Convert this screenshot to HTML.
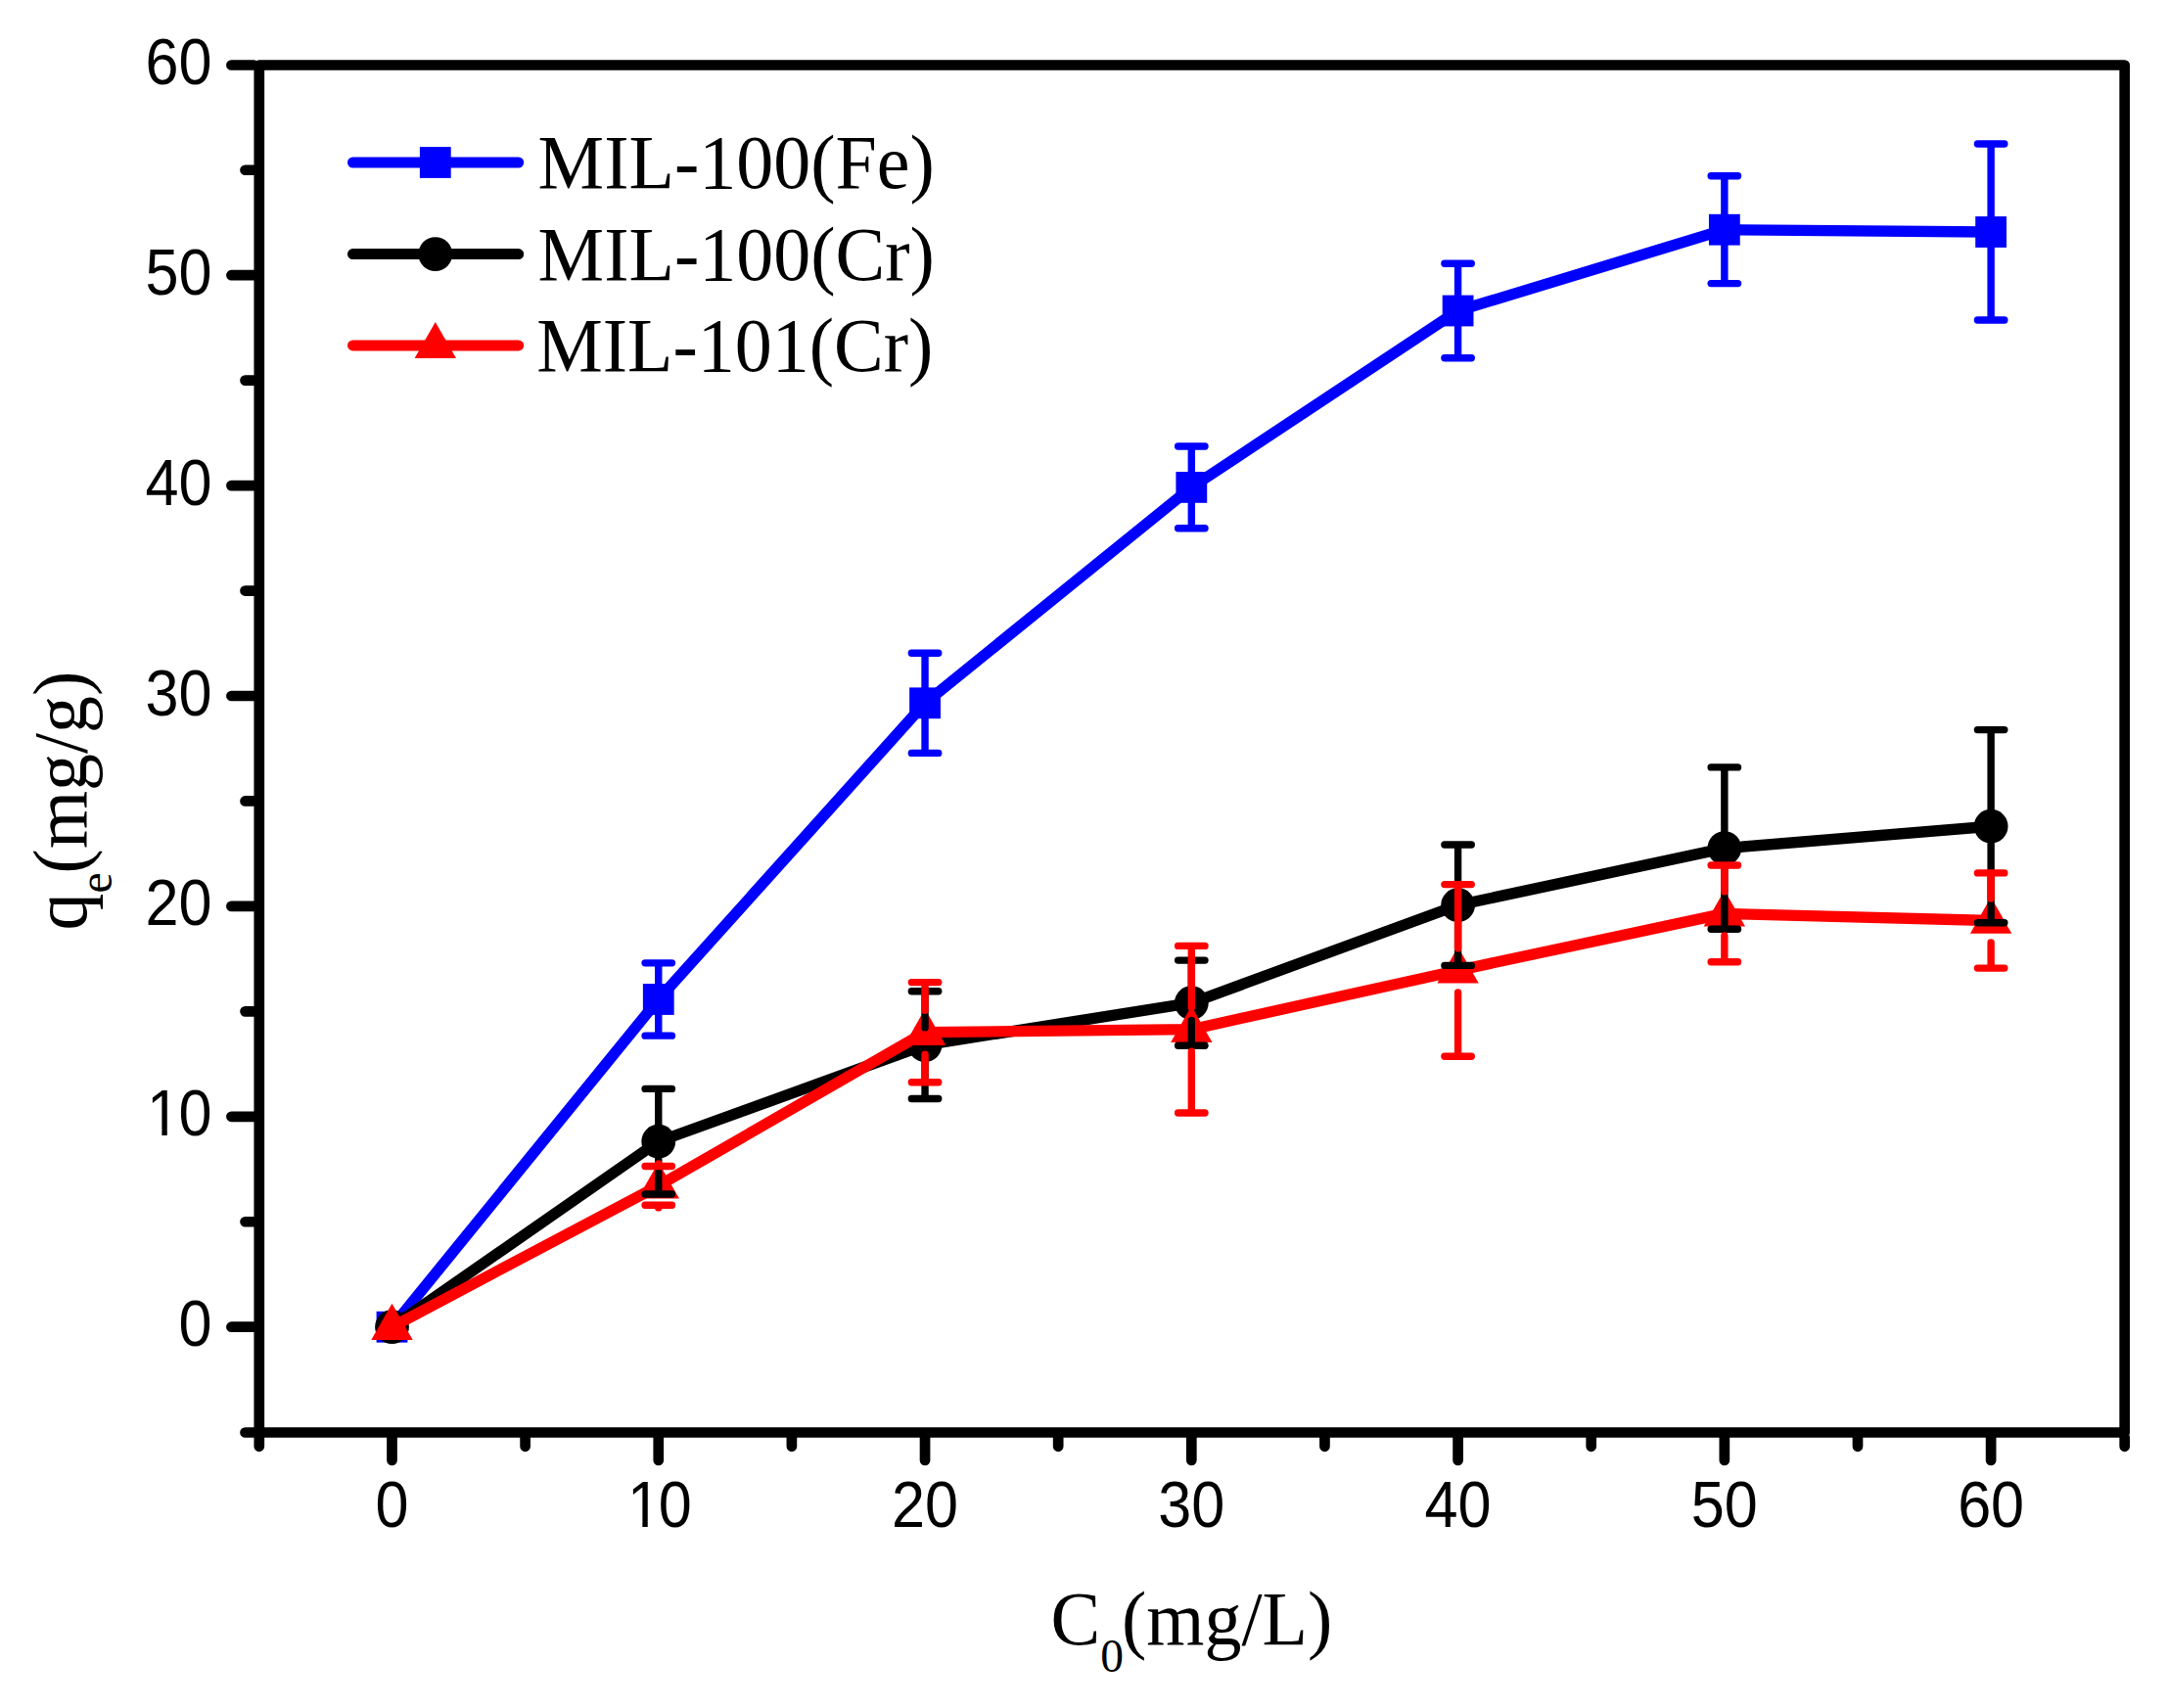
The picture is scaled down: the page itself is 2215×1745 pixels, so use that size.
<!DOCTYPE html>
<html lang="en"><head><meta charset="utf-8"><title>Adsorption isotherms</title>
<style>html,body{margin:0;padding:0;background:#fff}svg{display:block}.tk{font-family:"Liberation Sans",Arial,sans-serif;font-size:64px;fill:#000}.tt{font-family:"Liberation Serif","Times New Roman",serif;font-size:76px;fill:#000}.sb{font-size:47.5px}</style></head><body>
<svg width="2215" height="1745" viewBox="0 0 2215 1745">
<rect width="2215" height="1745" fill="#ffffff"/>
<g stroke="#000" stroke-width="10.7" stroke-linecap="round" stroke-linejoin="round" fill="none">
<path d="M264.8 66.5H2170.7V1463.5H264.8Z"/>
<path d="M259.45 1463.5H250.5M259.45 1355.7H236.4M259.45 1248.25H250.5M259.45 1140.8H236.4M259.45 1033.35H250.5M259.45 925.9H236.4M259.45 818.45H250.5M259.45 711H236.4M259.45 603.55H250.5M259.45 496.1H236.4M259.45 388.65H250.5M259.45 281.2H236.4M259.45 173.75H250.5M259.45 66.5H236.4M264.8 1468.85V1477.8M400.5 1468.85V1491.9M536.63 1468.85V1477.8M672.77 1468.85V1491.9M808.9 1468.85V1477.8M945.04 1468.85V1491.9M1081.17 1468.85V1477.8M1217.31 1468.85V1491.9M1353.45 1468.85V1477.8M1489.58 1468.85V1491.9M1625.71 1468.85V1477.8M1761.85 1468.85V1491.9M1897.99 1468.85V1477.8M2034.12 1468.85V1491.9M2170.7 1468.85V1477.8"/>
</g>
<g class="tk" text-anchor="end">
<text transform="translate(216.4 1375.2) scale(0.955 1.03)">0</text>
<text text-anchor="start" transform="translate(150.02 1160.3) scale(0.955 1.03)" dx="0 -1.68">10</text>
<text transform="translate(216.4 945.4) scale(0.955 1.03)">20</text>
<text transform="translate(216.4 730.5) scale(0.955 1.03)">30</text>
<text transform="translate(216.4 515.6) scale(0.955 1.03)">40</text>
<text transform="translate(216.4 300.7) scale(0.955 1.03)">50</text>
<text transform="translate(216.4 85.8) scale(0.955 1.03)">60</text>
</g>
<g class="tk" text-anchor="middle">
<text transform="translate(400.5 1560.3) scale(0.955 1.03)">0</text>
<text text-anchor="start" transform="translate(640.98 1560.3) scale(0.955 1.03)" dx="0 -2.3">10</text>
<text transform="translate(945.04 1560.3) scale(0.955 1.03)">20</text>
<text transform="translate(1217.31 1560.3) scale(0.955 1.03)">30</text>
<text transform="translate(1489.58 1560.3) scale(0.955 1.03)">40</text>
<text transform="translate(1761.85 1560.3) scale(0.955 1.03)">50</text>
<text transform="translate(2034.12 1560.3) scale(0.955 1.03)">60</text>
</g>
<rect x="153.67" y="1154.38" width="11.71" height="7.12" fill="#fff"/>
<rect x="170.79" y="1154.38" width="11.24" height="7.12" fill="#fff"/>
<rect x="644.63" y="1554.38" width="11.71" height="7.12" fill="#fff"/>
<rect x="661.75" y="1554.38" width="11.24" height="7.12" fill="#fff"/>
<text class="tt" transform="translate(1073.6 1680) scale(1 1.02)">C<tspan class="sb" dy="27">0</tspan><tspan dx="-2" dy="-27">(mg/L)</tspan></text>
<text class="tt" transform="translate(87.9 950.5) rotate(-90) scale(1 1.02)">q<tspan class="sb" dy="26">e</tspan><tspan dx="-1" dy="-26">(mg/g)</tspan></text>
<g>
<polyline points="400.5,1355.7 672.77,1021 945.04,718.3 1217.31,497.9 1489.58,317.5 1761.85,234.7 2034.12,237" fill="none" stroke="#0000ff" stroke-width="11.3" stroke-linejoin="round" stroke-linecap="round"/>
<rect x="384.6" y="1339.8" width="31.8" height="31.8" fill="#0000ff"/>
<rect x="656.87" y="1005.1" width="31.8" height="31.8" fill="#0000ff"/>
<rect x="929.14" y="702.4" width="31.8" height="31.8" fill="#0000ff"/>
<rect x="1201.41" y="482" width="31.8" height="31.8" fill="#0000ff"/>
<rect x="1473.68" y="301.6" width="31.8" height="31.8" fill="#0000ff"/>
<rect x="1745.95" y="218.8" width="31.8" height="31.8" fill="#0000ff"/>
<rect x="2018.22" y="221.1" width="31.8" height="31.8" fill="#0000ff"/>
</g>
<g>
<polyline points="400.5,1355.7 672.77,1166.2 945.04,1067.6 1217.31,1024.7 1489.58,924.7 1761.85,866.6 2034.12,844.2" fill="none" stroke="#000000" stroke-width="11.3" stroke-linejoin="round" stroke-linecap="round"/>
<circle cx="400.5" cy="1355.7" r="17.4" fill="#000000"/>
<circle cx="672.77" cy="1166.2" r="17.4" fill="#000000"/>
<circle cx="945.04" cy="1067.6" r="17.4" fill="#000000"/>
<circle cx="1217.31" cy="1024.7" r="17.4" fill="#000000"/>
<circle cx="1489.58" cy="924.7" r="17.4" fill="#000000"/>
<circle cx="1761.85" cy="866.6" r="17.4" fill="#000000"/>
<circle cx="2034.12" cy="844.2" r="17.4" fill="#000000"/>
</g>
<g>
<polyline points="400.5,1355.7 672.77,1211.4 945.04,1054.7 1217.31,1051.7 1489.58,991.4 1761.85,933.4 2034.12,940.5" fill="none" stroke="#ff0000" stroke-width="11.3" stroke-linejoin="round" stroke-linecap="round"/>
<polygon points="400.5,1331.7 421.7,1368.9 379.3,1368.9" fill="#ff0000"/>
<polygon points="672.77,1187.4 693.97,1224.6 651.57,1224.6" fill="#ff0000"/>
<polygon points="945.04,1030.7 966.24,1067.9 923.84,1067.9" fill="#ff0000"/>
<polygon points="1217.31,1027.7 1238.51,1064.9 1196.11,1064.9" fill="#ff0000"/>
<polygon points="1489.58,967.4 1510.78,1004.6 1468.38,1004.6" fill="#ff0000"/>
<polygon points="1761.85,909.4 1783.05,946.6 1740.65,946.6" fill="#ff0000"/>
<polygon points="2034.12,916.5 2055.32,953.7 2012.92,953.7" fill="#ff0000"/>
</g>
<path d="M659.07 983.85H686.47M659.07 1058.15H686.47M672.77 983.85V1005.3M672.77 1036.7V1058.15M931.34 667.2H958.74M931.34 769.4H958.74M945.04 667.2V702.6M945.04 734V769.4M1203.61 456.05H1231.01M1203.61 539.75H1231.01M1217.31 456.05V482.2M1217.31 513.6V539.75M1475.88 269.2H1503.28M1475.88 365.8H1503.28M1489.58 269.2V301.8M1489.58 333.2V365.8M1748.15 179.8H1775.55M1748.15 289.6H1775.55M1761.85 179.8V219M1761.85 250.4V289.6M2020.42 147.05H2047.82M2020.42 326.95H2047.82M2034.12 147.05V221.3M2034.12 252.7V326.95" fill="none" stroke="#0000ff" stroke-width="7.4" stroke-linecap="round"/>
<path d="M659.07 1112.4H686.47M659.07 1220H686.47M672.77 1112.4V1148.5M672.77 1183.9V1220M931.34 1012.7H958.74M931.34 1122.5H958.74M945.04 1012.7V1049.9M945.04 1085.3V1122.5M1203.61 981.1H1231.01M1203.61 1068.3H1231.01M1217.31 981.1V1007M1217.31 1042.4V1068.3M1475.88 863H1503.28M1475.88 986.4H1503.28M1489.58 863V907M1489.58 942.4V986.4M1748.15 783.9H1775.55M1748.15 949.3H1775.55M1761.85 783.9V848.9M1761.85 884.3V949.3M2020.42 745.6H2047.82M2020.42 942.8H2047.82M2034.12 745.6V826.5M2034.12 861.9V942.8" fill="none" stroke="#000000" stroke-width="7.4" stroke-linecap="round"/>
<path d="M659.07 1191.55H686.47M659.07 1231.25H686.47M672.77 1191.55V1188.9M672.77 1233.9V1231.25M931.34 1003.6H958.74M931.34 1105.8H958.74M945.04 1003.6V1032.2M945.04 1077.2V1105.8M1203.61 966.4H1231.01M1203.61 1137H1231.01M1217.31 966.4V1029.2M1217.31 1074.2V1137M1475.88 903.6H1503.28M1475.88 1079.2H1503.28M1489.58 903.6V968.9M1489.58 1013.9V1079.2M1748.15 884H1775.55M1748.15 982.8H1775.55M1761.85 884V910.9M1761.85 955.9V982.8M2020.42 891.9H2047.82M2020.42 989.1H2047.82M2034.12 891.9V918M2034.12 963V989.1" fill="none" stroke="#ff0000" stroke-width="7.4" stroke-linecap="round"/>
<line x1="360.5" y1="166" x2="529.7" y2="166" stroke="#0000ff" stroke-width="11" stroke-linecap="round"/>
<rect x="428.9" y="150.1" width="31.8" height="31.8" fill="#0000ff"/>
<text class="tt" transform="translate(549.6 192.4) scale(1 1.02)">MIL-100(Fe)</text>
<line x1="360.5" y1="259.6" x2="529.7" y2="259.6" stroke="#000000" stroke-width="11" stroke-linecap="round"/>
<circle cx="444.8" cy="259.6" r="17.4" fill="#000000"/>
<text class="tt" transform="translate(549.6 286) scale(1 1.02)">MIL-100(Cr)</text>
<line x1="360.5" y1="352.9" x2="529.7" y2="352.9" stroke="#ff0000" stroke-width="11" stroke-linecap="round"/>
<polygon points="444.8,328.9 466,366.1 423.6,366.1" fill="#ff0000"/>
<text class="tt" transform="translate(548.2 379.3) scale(1 1.02)">MIL-101(Cr)</text>
</svg>
</body></html>
